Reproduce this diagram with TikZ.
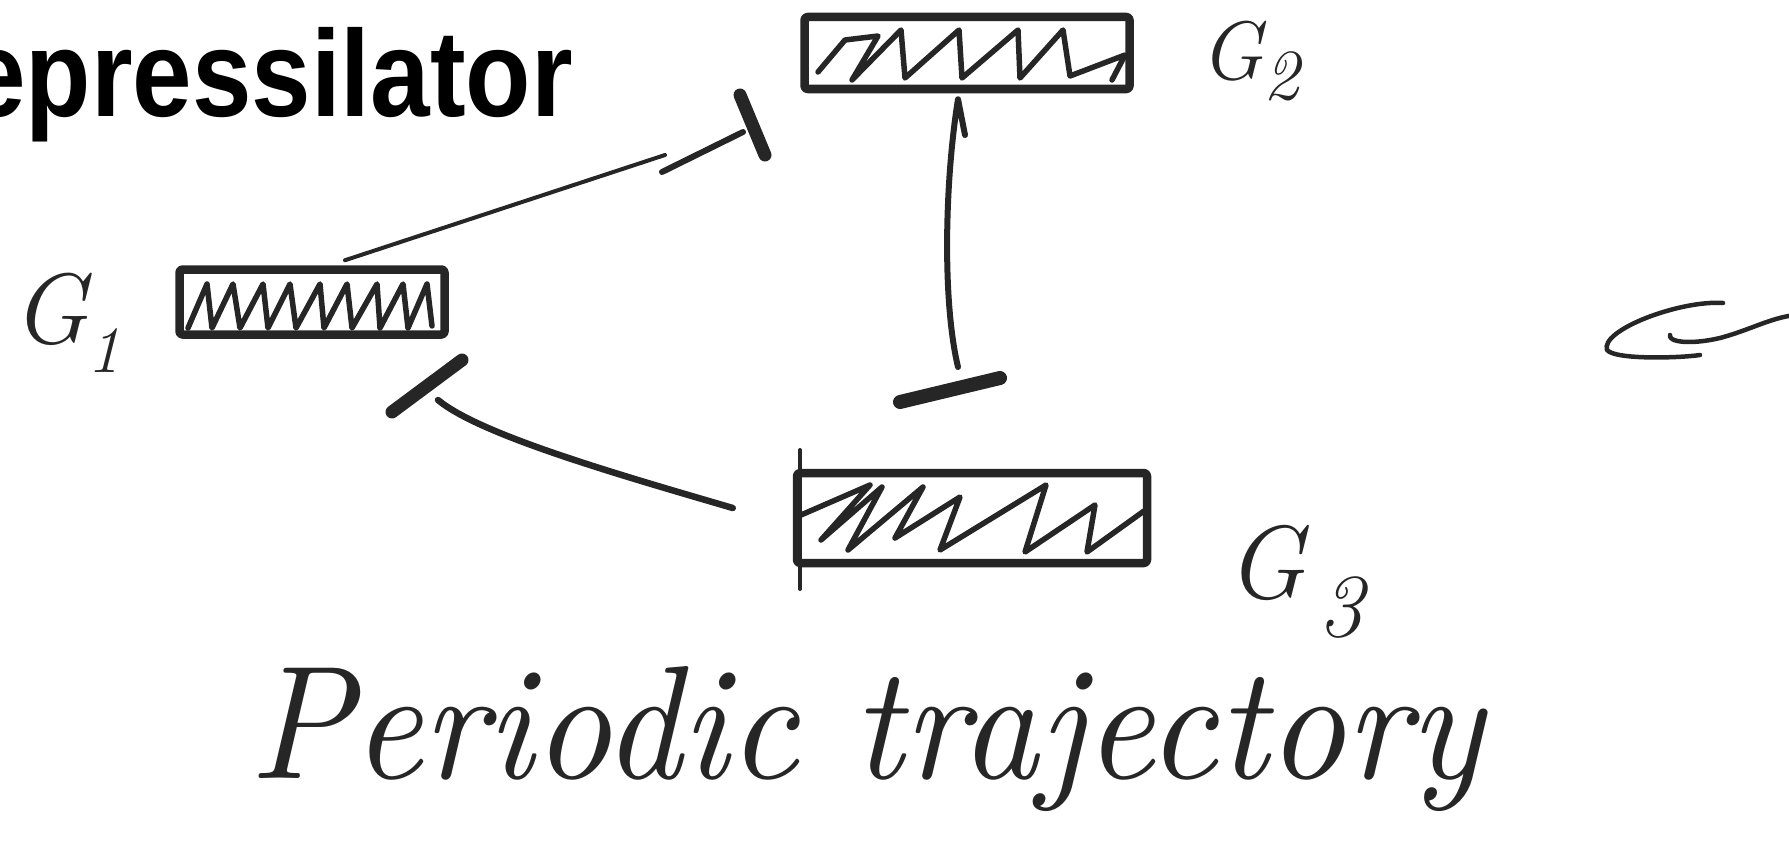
\documentclass[tikz,border=0pt]{standalone}
\usepackage{fontspec}
\newfontfamily\titlefont{Liberation Sans}
\usetikzlibrary{calc}
\begin{document}
\begin{tikzpicture}[x=1pt,y=-1pt,
  ink/.style={draw=black!85, line cap=round, line join=round},
  genebox/.style={ink, line width=8.5pt, rectangle, rounded corners=3pt, inner sep=0pt},
  hatch/.style={ink, line width=5.5pt},
  thinlink/.style={ink, line width=4pt},
  link/.style={ink, line width=6pt},
  tbar/.style={ink, line width=13pt},
  lbl/.style={inner sep=0pt, anchor=base west, text=black!85}]
\useasboundingbox (0,0) rectangle (1789,843);

% title
\node[inner sep=0pt, anchor=base west] (title) at (-34,117)
  {\scalebox{0.87}[1]{\titlefont\fontsize{123}{126}\selectfont\bfseries epressilator}};

% gene boxes
\node[genebox, minimum width=265pt, minimum height=65pt] (g1) at (312,302) {};
\node[genebox, minimum width=325pt, minimum height=72pt] (g2) at (967,53) {};
\node[genebox, minimum width=350pt, minimum height=90pt] (g3) at (972,518) {};
\draw[ink, line width=4pt] (800,450) -- (800,589);

% hatching
\draw[hatch] (188,328) -- (207,284) -- (212,328) -- (233,284) -- (240,328) -- (263,284)
  -- (268,328) -- (290,284) -- (296,328) -- (320,284) -- (324,328) -- (347,284)
  -- (352,328) -- (377,284) -- (380,328) -- (403,284) -- (408,328) -- (427,284) -- (432,326);
\draw[hatch] (818,72) -- (845,40) -- (878,36) -- (852,80) -- (901,30) -- (905,78)
  -- (959,30) -- (962,78) -- (1018,30) -- (1020,78) -- (1063,30) -- (1070,76)
  -- (1125,55) -- (1112,80);
\draw[hatch] (801,515) -- (870,485) -- (821,540) -- (882,487) -- (848,550) -- (923,487)
  -- (895,538) -- (960,497) -- (940,550) -- (1046,485) -- (1025,552) -- (1095,505)
  -- (1087,552) -- (1144,511);

% labels
\node[lbl] (l1) at (12,343) {\itshape\fontsize{100}{100}\selectfont G\raisebox{-29pt}{\fontsize{66}{66}\selectfont 1}};
\node[lbl] (l2) at (1200,80) {\itshape\fontsize{83}{83}\selectfont G\raisebox{-20pt}{\fontsize{72}{72}\selectfont 2}};
\node[lbl] (l3) at (1226,598) {\itshape\fontsize{104}{104}\selectfont G\kern14pt\raisebox{-38pt}{\fontsize{90}{90}\selectfont 3}};
\node[lbl] (pt) at (249,778) {\resizebox{1234pt}{112pt}{\itshape Periodic trajectory}};

% G1 -| G2
\coordinate (k1) at (665,155);
\coordinate (k2) at (662,172);
\coordinate (k3) at (743,132);
\coordinate (b12a) at (740,95);
\coordinate (b12b) at (765,155);
\draw[thinlink] ($(g1.north)+(33,-5)$) -- (k1);
\draw[link] (k2) -- (k3);
\draw[tbar] (b12a) -- (b12b);

% G2 -| G3
\coordinate (v0) at (965,135);
\coordinate (v1) at (958,367);
\coordinate (b23a) at (900,402);
\coordinate (b23b) at (1000,378);
\draw[link] (v0) -- ($(g2.south)+(-9,6)$) .. controls (945,180) and (942,300) .. (v1);
\draw[tbar, line width=14pt] (b23a) -- (b23b);

% G3 -| G1
\coordinate (w1) at (438,400);
\coordinate (b31a) at (392,412);
\coordinate (b31b) at (462,360);
\draw[link, line width=6.5pt] ($(g3.west)+(-60,-10)$) .. controls (620,475) and (480,435) .. (w1);
\draw[tbar] (b31a) -- (b31b);

% scribble at right
\draw[ink, line width=4.5pt] (1723,303) .. controls (1680,300) and (1600,330) .. (1607,350)
  .. controls (1615,360) and (1680,358) .. (1700,355);
\draw[ink, line width=4.5pt] (1670,335) .. controls (1668,342) and (1690,345) .. (1720,338)
  .. controls (1750,330) and (1770,318) .. (1795,315);
\end{tikzpicture}
\end{document}
